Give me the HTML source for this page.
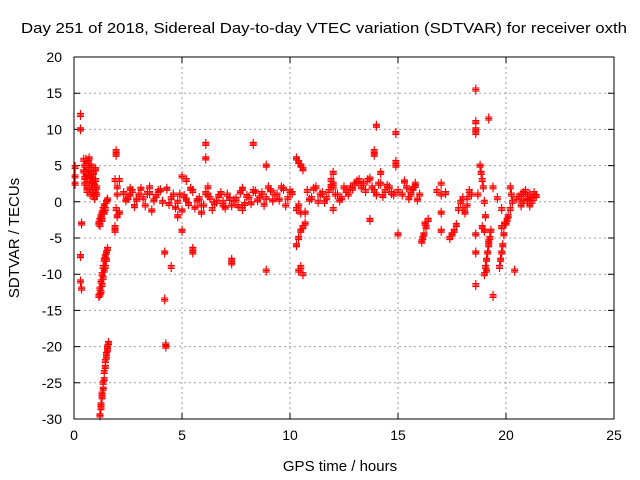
<!DOCTYPE html>
<html><head><meta charset="utf-8"><style>
body{margin:0;background:#fff}
svg{display:block;font-family:"Liberation Sans",sans-serif}
</style></head><body>
<svg id="chart" width="640" height="480" xmlns="http://www.w3.org/2000/svg">
<rect width="640" height="480" fill="#fff"/>
<text x="324" y="33" font-size="15" text-anchor="middle" textLength="606" lengthAdjust="spacingAndGlyphs">Day 251 of 2018, Sidereal Day-to-day VTEC variation (SDTVAR) for receiver oxth</text>
<g id="grid"></g>
<g id="ticks"></g>
<g id="marks"></g>
<rect x="74" y="57" width="540" height="362" fill="none" stroke="#000" stroke-width="1"/>
<text x="340" y="471" font-size="15" text-anchor="middle">GPS time / hours</text>
<text x="0" y="0" font-size="15" text-anchor="middle" transform="translate(19,238) rotate(-90)">SDTVAR / TECUs</text>
</svg>
<script>
const xTicks=[0,5,10,15,20,25];
const yTicks=[20,15,10,5,0,-5,-10,-15,-20,-25,-30];
const hours=[
0.05,0.05,0.05,0.3,0.3,0.35,0.3,0.3,0.35,
0.45,0.5,0.55,0.6,0.5,0.65,0.7,0.75,0.8,0.85,0.9,0.95,1.0,1.05,0.7,0.8,0.9,1.0,0.6,0.75,0.55,0.65,0.85,0.95,1.05,0.45,0.5,0.6,0.7,0.8,0.9,1.0,
1.15,1.2,1.25,1.3,1.35,1.4,1.5,1.55,1.3,1.4,1.2,1.45,
1.15,1.2,1.25,1.3,1.35,1.4,1.45,1.5,1.55,1.25,1.35,1.45,1.3,1.4,1.5,1.2,
1.2,1.25,1.3,1.35,1.4,1.45,1.5,1.55,1.6,1.3,1.4,1.5,1.25,1.35,1.45,1.55,
1.95,1.95,1.9,2.0,2.0,1.95,2.0,1.9,1.9,2.1,2.1,
2.3,2.5,2.7,2.9,3.1,3.3,3.5,3.7,3.9,4.1,4.3,4.5,4.7,4.9,5.1,5.3,5.5,5.7,5.9,6.1,6.3,6.5,6.7,6.9,7.1,7.3,7.5,7.7,7.9,8.1,8.3,8.5,8.7,8.9,9.1,9.3,9.5,9.7,9.9,10.1,
2.4,2.6,2.8,3.0,3.2,3.4,3.6,3.8,4.0,4.4,4.6,4.8,5.0,5.2,5.4,5.6,5.8,6.0,6.2,6.4,6.6,6.8,7.0,7.2,7.4,7.6,7.8,8.0,8.2,8.4,8.6,8.8,9.0,9.2,9.4,9.6,9.8,10.0,
4.2,4.2,4.25,4.25,4.5,5.0,5.0,5.2,5.5,5.5,6.1,6.1,7.3,7.3,8.3,8.9,8.9,7.8,6.2,5.9,3.5,2.6,4.8,6.9,
10.3,10.4,10.5,10.6,10.3,10.4,10.5,10.6,10.7,10.4,10.5,10.6,10.7,10.3,10.4,10.5,
10.8,11.0,11.2,11.4,11.6,11.8,12.0,12.2,12.4,12.6,12.8,13.0,13.2,13.4,13.6,13.8,14.0,14.2,14.4,14.6,14.8,15.0,
10.9,11.1,11.3,11.5,11.7,11.9,12.1,12.3,12.5,12.7,12.9,13.1,13.3,13.5,13.7,13.9,14.1,14.3,14.5,14.7,
12.0,12.0,12.0,11.9,14.0,13.9,13.9,14.9,14.9,14.9,15.0,13.7,14.2,
15.2,15.4,15.6,15.8,16.0,15.3,15.5,15.7,15.9,15.4,15.6,15.8,
16.1,16.2,16.3,16.4,16.15,16.25,17.0,17.0,17.0,17.0,17.4,17.5,17.6,17.7,16.8,17.2,
17.8,18.0,18.2,18.4,17.9,18.1,18.3,18.0,18.2,
18.6,18.6,18.6,18.6,18.6,18.6,18.6,18.7,
18.8,18.85,18.9,18.95,19.0,19.05,18.9,19.0,
19.0,19.05,19.1,19.15,19.2,19.25,19.3,19.1,19.2,19.2,19.4,19.4,
19.7,19.75,19.8,19.85,19.9,19.95,19.8,
20.0,20.1,20.2,20.3,20.05,20.25,20.2,19.6,19.8,20.4,20.5,
20.6,20.7,20.8,20.9,21.0,21.1,21.2,21.3,21.4,20.7,20.9,21.1,21.3,20.8,21.0,21.2
];
const values=[
3.5,4.8,2.5,12,10,-3,-7.5,-11,-12,
5.8,5,4,3,2.5,5.5,4.5,3.5,2.5,1.5,1,0.5,3,2,6,5,4,4.5,1.5,1,5.8,3.8,3.2,2.2,1,4.2,3.3,2,2,3.6,2.8,1.5,
-3,-2.5,-2,-1.5,-1,-0.5,0,0.3,-2.5,-1.5,-3.2,-1,
-13,-12,-11,-10,-9,-8,-7.5,-7,-6.5,-12.5,-10.5,-9,-11.5,-9.5,-8,-12.8,
-29.5,-28,-26.5,-25,-23.5,-22,-21,-20,-19.5,-27,-24.5,-21.5,-28.5,-25.8,-22.8,-20.5,
7,6.5,3,2,1,-1,-2,-3.5,-4,-1.5,3,
1.2,0.5,1.5,0.3,1.8,-0.5,1.2,0.2,1.5,0,1.8,0.5,-0.8,1,0.8,-0.3,1.5,0.2,-0.5,1.2,0.5,-0.2,0.8,0,1,-0.5,0.4,1.3,-0.3,0.6,1.5,0.2,1.2,0.5,1.6,1.0,0.3,1.8,0.5,1.2,
0.2,1.8,-0.6,1,0.5,1.2,-1.2,0.8,1.6,-0.3,1,0,-1.2,0.3,1.8,-0.8,0.5,-0.5,1,-1,0,1.2,-0.8,0.4,0.2,-0.6,1.8,0.8,-0.2,1.4,0.6,-0.4,2,0.2,1,2,-0.5,1.5,
-7,-13.5,-20,-19.7,-9,3.5,-4,3,-6.5,-7,8,6,-8,-8.5,8,5,-9.5,-1,2,-1.5,2,1,-2,-0.5,
6,5.5,5,4.5,-6,-5,-4,-3.5,-3,-9.5,-9,-10,-1.5,-1,-0.5,-1.5,
1.5,0.5,2,1,0,1.5,2,1,0.5,1.5,2,2.5,3,2.5,3,2,1,2.5,1.5,2,1,1.5,
0.3,1.8,0,1.2,0.5,2.2,1,0.2,2,1,1.8,2.8,2,1.5,3.2,1.5,2.5,0.8,2.2,1.2,
4,2.5,-1,3,10.5,7,6.5,9.5,5.5,5,-4.5,-2.5,4,
1,2,1.5,2.5,1,2.8,0.5,1.8,0.3,2,1,2.2,
-5.5,-4.5,-3.5,-2.5,-5,-3,1,2.5,-1.5,-4,-5,-4.5,-4,-3.2,1.5,1.2,
-1,0.5,-0.5,1,0,-1.5,1.5,-1,0.5,
15.5,11,10,9.5,-11.5,-7,-4.5,1,
5,4,3,2,0,-2,-3.5,-4,
-10,-9,-8,-7,-6,-5,-4,-9.5,-5.5,11.5,-13,2,
-9,-8,-7,-6,-4.5,-3,-3.5,
-3,-2,-1,0,-2.5,1,2,0.5,-1,-9.5,0.5,
0.5,1,0,1.5,0.5,1,0,1.2,0.8,-0.5,1.5,-0.5,1,1.2,0.2,0.4
];
const X0=74,XW=540,Y0=57,YH=362;
const sx=h=>X0+h/25*XW;
const sy=v=>Y0+(20-v)/50*YH;
const NS="http://www.w3.org/2000/svg";
const grid=document.getElementById('grid'),ticks=document.getElementById('ticks'),marks=document.getElementById('marks');
function el(t,a){const e=document.createElementNS(NS,t);for(const k in a)e.setAttribute(k,a[k]);return e;}
xTicks.forEach(t=>{const x=sx(t);
 if(t>0&&t<25){const g=el('line',{x1:x,x2:x,y1:Y0,y2:Y0+YH,stroke:'#a0a0a0','stroke-dasharray':'2,3'});
 
 grid.appendChild(g);}
 const tk=el('path',{d:`M${x},${Y0+YH}v-6M${x},${Y0}v6`,stroke:'#000'});
 
 ticks.appendChild(tk);
 const lb=el('text',{x:x,y:Y0+YH+21,'font-size':14,'text-anchor':'middle'});lb.textContent=t;
 
 ticks.appendChild(lb);});
yTicks.forEach(t=>{const y=sy(t);
 if(t<20&&t>-30){const g=el('line',{x1:X0,x2:X0+XW,y1:y,y2:y,stroke:'#a0a0a0','stroke-dasharray':'2,3'});
 
 grid.appendChild(g);}
 const tk=el('path',{d:`M${X0},${y}h6M${X0+XW},${y}h-6`,stroke:'#000'});
 
 ticks.appendChild(tk);
 const lb=el('text',{x:X0-12,y:y+5,'font-size':14,'text-anchor':'end'});lb.textContent=t;
 
 ticks.appendChild(lb);});
let d='';
for(let i=0;i<hours.length;i++){const x=sx(hours[i]),y=sy(values[i]);
 for(const o of [-1.5,0,1.5]){d+=`M${x-3.5},${y+o}h7M${x},${y+o-3.5}v7`;}}
const p=el('path',{d:d,stroke:'#ff0000','stroke-width':1.2,fill:'none'});


marks.appendChild(p);
</script>
</body></html>
